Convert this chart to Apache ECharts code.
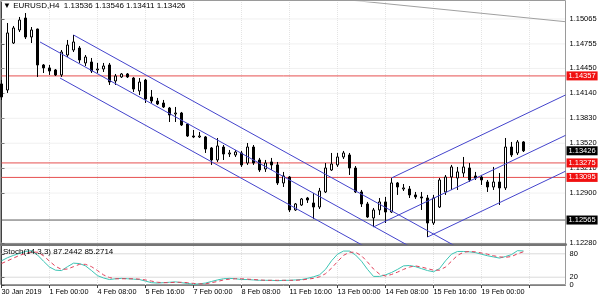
<!DOCTYPE html>
<html><head><meta charset="utf-8">
<script src="https://cdn.jsdelivr.net/npm/echarts@6/dist/echarts.min.js"></script>
<style>html,body{margin:0;padding:0;background:#fff}#c{width:599px;height:295px}</style>
</head><body><div id="c"></div>
<script>
const symbolName = 'EURUSD,H4';
const tickLabels = ['30 Jan 2019','1 Feb 00:00','4 Feb 08:00','5 Feb 16:00','7 Feb 00:00','8 Feb 08:00','11 Feb 16:00','13 Feb 00:00','14 Feb 08:00','15 Feb 16:00','19 Feb 00:00'];
// [open, close, low, high]
const candles = [
[1.14257,1.14095,1.14058,1.14306],[1.14182,1.14891,1.14145,1.15015],[1.14766,1.14953,1.14754,1.14978],[1.14928,1.15052,1.14903,1.15090],
[1.15077,1.14841,1.14816,1.15139],[1.14841,1.14928,1.14766,1.14965],[1.14940,1.14493,1.14344,1.14945],[1.14493,1.14456,1.14393,1.14505],
[1.14456,1.14418,1.14369,1.14493],[1.14431,1.14369,1.14356,1.14443],[1.14369,1.14654,1.14344,1.14679],[1.14617,1.14741,1.14592,1.14804],
[1.14679,1.14779,1.14654,1.14866],[1.14704,1.14555,1.14518,1.14729],[1.14518,1.14592,1.14480,1.14617],[1.14530,1.14418,1.14393,1.14580],
[1.14431,1.14443,1.14393,1.14518],[1.14443,1.14480,1.14406,1.14518],[1.14493,1.14281,1.14244,1.14518],[1.14294,1.14356,1.14244,1.14381],
[1.14344,1.14381,1.14331,1.14393],[1.14381,1.14344,1.14331,1.14393],[1.14331,1.14194,1.14157,1.14344],[1.14170,1.14281,1.14120,1.14331],
[1.14306,1.14070,1.14020,1.14319],[1.14095,1.14045,1.14020,1.14182],[1.14045,1.14008,1.13995,1.14083],[1.14020,1.13971,1.13958,1.14058],
[1.13958,1.13871,1.13784,1.13971],[1.13884,1.13896,1.13784,1.13971],[1.13896,1.13747,1.13734,1.13909],[1.13759,1.13610,1.13598,1.13772],
[1.13610,1.13598,1.13585,1.13685],[1.13598,1.13610,1.13585,1.13660],[1.13598,1.13448,1.13399,1.13610],[1.13461,1.13312,1.13250,1.13473],
[1.13312,1.13486,1.13287,1.13585],[1.13473,1.13386,1.13312,1.13498],[1.13386,1.13399,1.13349,1.13436],[1.13374,1.13411,1.13349,1.13436],
[1.13399,1.13250,1.13225,1.13424],[1.13274,1.13473,1.13250,1.13523],[1.13473,1.13274,1.13250,1.13498],[1.13312,1.13187,1.13163,1.13337],
[1.13200,1.13274,1.13163,1.13312],[1.13287,1.13250,1.13187,1.13337],[1.13250,1.13026,1.13001,1.13287],[1.13026,1.13113,1.12976,1.13163],
[1.13100,1.12690,1.12665,1.13113],[1.12690,1.12765,1.12678,1.12777],[1.12752,1.12827,1.12740,1.12839],[1.12839,1.12814,1.12777,1.12852],
[1.12777,1.12727,1.12578,1.12901],[1.12727,1.12926,1.12702,1.12964],[1.12914,1.13212,1.12901,1.13274],[1.13187,1.13262,1.13175,1.13399],
[1.13250,1.13349,1.13225,1.13399],[1.13349,1.13399,1.13324,1.13424],[1.13374,1.13212,1.13125,1.13399],[1.13212,1.12914,1.12901,1.13237],
[1.12914,1.12765,1.12727,1.12939],[1.12765,1.12603,1.12591,1.12790],[1.12591,1.12690,1.12479,1.12715],[1.12690,1.12790,1.12628,1.12839],
[1.12790,1.12665,1.12528,1.12852],[1.12665,1.13026,1.12653,1.13088],[1.13026,1.12976,1.12877,1.13038],[1.12951,1.12964,1.12926,1.13013],
[1.12951,1.12877,1.12839,1.12988],[1.12877,1.12852,1.12827,1.12914],[1.12852,1.12839,1.12690,1.12914],[1.12839,1.12528,1.12354,1.12877],
[1.12528,1.12839,1.12504,1.12877],[1.12727,1.13063,1.12715,1.13088],[1.12914,1.13100,1.12877,1.13125],[1.13100,1.13225,1.12939,1.13250],
[1.13088,1.13163,1.12939,1.13225],[1.13150,1.13225,1.13100,1.13349],[1.13212,1.13063,1.13038,1.13274],[1.13113,1.13088,1.13063,1.13163],
[1.13100,1.13063,1.13001,1.13125],[1.13038,1.12976,1.12914,1.13063],[1.12976,1.13038,1.12939,1.13225],[1.13038,1.12964,1.12752,1.13150],
[1.12964,1.13473,1.12939,1.13585],[1.13473,1.13374,1.13349,1.13536],[1.13399,1.13536,1.13374,1.13560],[1.13536,1.13426,1.13411,1.13546]
];
const stochK = [62,70,76,81,86,88,77,61,46,38,37,47,56,55,49,37,24,18,14,16,17,16,15,14,10,6,5,6,7,8,6,4,2,3,5,9,13,16,17,16,14,14,13,12,12,12,11,12,12,13,14,17,21,26,40,62,79,87,87,77,61,40,22,22,26,32,40,49,50,47,42,37,34,42,62,79,86,86,85,83,79,75,72,69,73,78,88,87.2442];
const stochD = [55,62,69,76,81,85,84,75,61,48,40,41,47,53,53,47,37,26,19,16,16,16,16,15,13,10,7,6,6,7,7,6,4,3,3,6,9,13,15,16,16,15,14,13,12,12,12,12,12,12,13,15,17,21,29,43,60,76,84,84,75,59,41,28,23,27,33,40,46,49,46,42,38,38,46,61,76,84,86,85,82,79,75,72,71,73,80,85.2714];
const priceTicks = [1.15065,1.14755,1.14450,1.14140,1.13830,1.13520,1.13210,1.12900,1.12280];
const stochTicks = [0,20,80,100];
const stochLevels = [20,80];
const redLevels = [1.14357,1.13275,1.13095];
const blackLevels = [1.12565];
const lastPrice = 1.13426;
// trend objects: [barIndex, price]
const descChannel = [
  [[12,1.14866],[80,1.12061]],
  [[6.42,1.14779],[80,1.11744]],
  [[9.75,1.14331],[70,1.11846]]
];
const ascChannel = [
  [[65,1.13088],[94,1.14120]],
  [[62,1.12479],[94,1.13618]],
  [[71,1.12354],[94,1.13172]]
];
const grayTrend = [[58.75,1.15295],[94,1.15031]];
const totalSlots = 95;
const yMin = 1.12267, yMax = 1.15276;

const cats = Array.from({length: totalSlots}, (_, i) => String(i));
const last = candles[candles.length - 1];
const FONT = 'Liberation Sans';
const xEnd = totalSlots - 1;

const series = [];
// faint horizontal grid
priceTicks.forEach(v => series.push({
  type: 'line', xAxisIndex: 2, yAxisIndex: 0, data: [[0, v], [xEnd, v]], symbol: 'none', silent: true, z: 1,
  lineStyle: {color: '#e2e2e2', width: 1, type: 'dotted'}
}));
series.push({
  type: 'line', xAxisIndex: 2, yAxisIndex: 0, data: grayTrend, symbol: 'none', silent: true, z: 2,
  lineStyle: {color: '#a0a0a0', width: 1}
});
function levelSeries(v, lineColor, bg, hideLine) {
  return {
    type: 'line', xAxisIndex: 2, yAxisIndex: 0, data: [[0, v], [xEnd, v]], symbol: 'none', silent: true, z: 2,
    lineStyle: {color: lineColor, width: 1, opacity: hideLine ? 0 : 1},
    endLabel: {show: true, distance: 1, formatter: () => v.toFixed(5), backgroundColor: bg, color: '#fff',
      fontSize: 7.5, fontFamily: FONT, padding: [1, 2, 0, 2]}
  };
}
redLevels.forEach(v => series.push(levelSeries(v, '#e65050', '#f01010')));
blackLevels.forEach(v => series.push(levelSeries(v, '#5a5a5a', '#000000')));
series.push(levelSeries(lastPrice, '#000000', '#000000', true));
series.push({
  type: 'candlestick', xAxisIndex: 0, yAxisIndex: 0, data: candles, barWidth: 3, clip: false, z: 3,
  itemStyle: {color: '#ffffff', color0: '#000000', borderColor: '#000000', borderColor0: '#000000', borderWidth: 1}
});
descChannel.concat(ascChannel).forEach(seg => series.push({
  type: 'line', xAxisIndex: 2, yAxisIndex: 0, data: seg, symbol: 'none', silent: true, z: 4,
  lineStyle: {color: '#4444cc', width: 1}
}));
stochLevels.forEach(v => series.push({
  type: 'line', xAxisIndex: 3, yAxisIndex: 1, data: [[0, v], [xEnd, v]], symbol: 'none', silent: true, z: 2,
  lineStyle: {color: '#b4b4b4', width: 1, type: 'dotted'}
}));
series.push({
  type: 'line', xAxisIndex: 1, yAxisIndex: 1, data: stochK, symbol: 'none', silent: true, z: 3,
  lineStyle: {color: '#3cc4b4', width: 1}
});
series.push({
  type: 'line', xAxisIndex: 1, yAxisIndex: 1, data: stochD, symbol: 'none', silent: true, z: 4,
  lineStyle: {color: '#e0405a', width: 1, type: [4, 3]}
});

const option = {
  animation: false,
  backgroundColor: '#ffffff',
  textStyle: {fontFamily: FONT},
  title: [
    {text: '\u25BC ' + symbolName + '  ' + last[0].toFixed(5) + ' ' + last[3].toFixed(5) + ' ' + last[2].toFixed(5) + ' ' + last[1].toFixed(5),
     left: 3, top: 2, padding: 0, textStyle: {fontSize: 8, fontWeight: 'normal', color: '#000', fontFamily: FONT}},
    {text: 'Stoch(14,3,3) ' + stochK[stochK.length - 1].toFixed(4) + ' ' + stochD[stochD.length - 1].toFixed(4),
     left: 3, top: 248, padding: 0, textStyle: {fontSize: 8, fontWeight: 'normal', color: '#000', fontFamily: FONT}}
  ],
  grid: [
    {left: 1.5, right: 33.5, top: 2, height: 242, containLabel: false, outerBoundsMode: 'none'},
    {left: 1.5, right: 33.5, top: 246, height: 39, containLabel: false, outerBoundsMode: 'none'}
  ],
  xAxis: [
    {type: 'category', gridIndex: 0, data: cats, boundaryGap: false,
     axisLine: {show: true, lineStyle: {color: '#757575', width: 3}},
     axisTick: {show: false}, axisLabel: {show: false},
     splitLine: {show: true, interval: 7, lineStyle: {color: '#e4e4e4', type: 'dotted'}}},
    {type: 'category', gridIndex: 1, data: cats, boundaryGap: false,
     axisLine: {show: true, lineStyle: {color: '#808080', width: 1}},
     axisTick: {show: true, interval: 7, length: 3, lineStyle: {color: '#404040'}},
     axisLabel: {show: true, interval: 7, align: 'left', margin: 3, fontSize: 7.3, color: '#000', fontFamily: FONT,
       formatter: (v, i) => tickLabels[i / 8] || ''},
     splitLine: {show: true, interval: 7, lineStyle: {color: '#e4e4e4', type: 'dotted'}}},
    {type: 'value', gridIndex: 0, min: 0, max: xEnd, show: false},
    {type: 'value', gridIndex: 1, min: 0, max: xEnd, show: false}
  ],
  yAxis: [
    {type: 'value', gridIndex: 0, position: 'right', min: yMin, max: yMax, scale: true,
     axisLine: {show: true, lineStyle: {color: '#404040'}},
     axisTick: {show: true, length: 3, customValues: priceTicks, lineStyle: {color: '#404040'}},
     axisLabel: {show: true, customValues: priceTicks, formatter: v => v.toFixed(5), fontSize: 7.5, color: '#000', margin: 4, fontFamily: FONT},
     splitLine: {show: false}},
    {type: 'value', gridIndex: 1, position: 'right', min: 0, max: 100,
     axisLine: {show: true, lineStyle: {color: '#404040'}},
     axisTick: {show: true, length: 3, customValues: stochTicks, lineStyle: {color: '#404040'}},
     axisLabel: {show: true, customValues: stochTicks, fontSize: 7.5, color: '#000', margin: 4, fontFamily: FONT},
     splitLine: {show: false}}
  ],
  graphic: [
    {type: 'rect', silent: true, z: 0, shape: {x: 0.5, y: 0.5, width: 565, height: 284},
     style: {fill: 'none', stroke: '#9a9a9a', lineWidth: 1}}
  ],
  series: series
};
const chart = echarts.init(document.getElementById('c'), null, {renderer: 'canvas'});
chart.setOption(option);
</script>
</body></html>
